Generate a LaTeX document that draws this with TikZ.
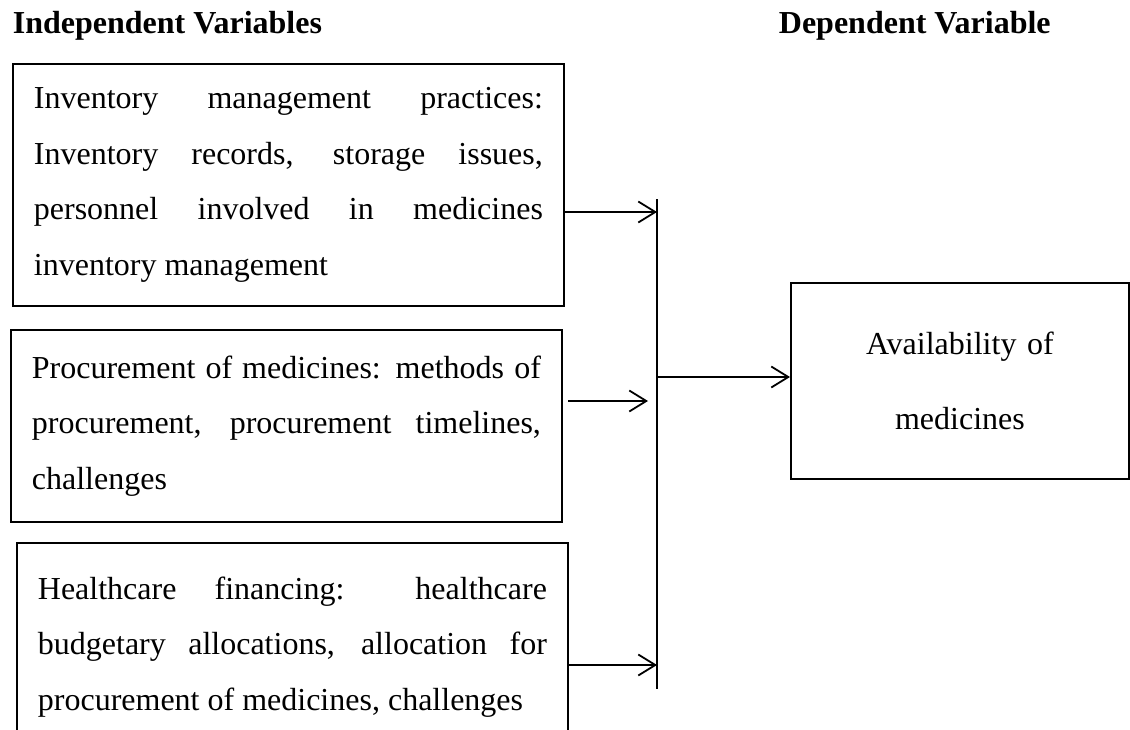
\documentclass[tikz,border=0pt]{standalone}
\usepackage{fontspec}
\setmainfont{Liberation Serif}
\usetikzlibrary{arrows.meta}

\begin{document}
\begin{tikzpicture}[x=0.5pt,y=-0.5pt,line width=0.9pt,
  ivbox/.style={draw,anchor=north west,text width=254.5pt,inner xsep=10.5pt,align=justify,
    font={\fontsize{16pt}{27.75pt}\selectfont\tolerance=10000\relax\hyphenpenalty=10000\relax}},
  dvbox/.style={draw,anchor=north west,text width=169pt,inner xsep=0pt,align=center,
    font={\fontsize{16pt}{37.5pt}\selectfont}},
  head/.style={anchor=base west,inner sep=0pt,font={\fontsize{16pt}{20pt}\selectfont\bfseries}},
  arr/.style={-{Straight Barb[length=8.5pt,width=10.5pt]}}]
\useasboundingbox (0,0) rectangle (1130,729);
\node[head] (ivhead) at (12,33) {Independent Variables};
\node[head] (dvhead) at (778,33) {Dependent Variable};
\node[ivbox,minimum height=121pt] (inv) at (12,63) {Inventory management practices:\linebreak
  Inventory records, storage issues,\linebreak personnel involved in medicines\linebreak
  inventory management\par\vspace{5.6pt}};
\node[ivbox,minimum height=96pt] (proc) at (10,329) {Procurement of medicines: methods of\linebreak
  procurement, procurement timelines,\linebreak challenges\par\vspace{9pt}};
\node[ivbox,minimum height=104pt] (fin) at (16,542) {Healthcare financing: healthcare\linebreak
  budgetary allocations, allocation for\linebreak procurement of medicines, challenges\par\vspace{18pt}};
\node[dvbox,minimum height=98pt] (avail) at (790,282) {Availability of\\medicines\par\vspace{32.5pt}};
\coordinate (bustop) at (657,199);
\coordinate (busbot) at (657,689);
\coordinate (a1) at (657,212);
\coordinate (a2s) at (568,401);
\coordinate (a2e) at (648,401);
\coordinate (a3) at (657,665);
\coordinate (a4) at (657,377);
\draw (bustop) -- (busbot);
\draw[arr] (inv.east |- a1) -- (a1);
\draw[arr] (a2s) -- (a2e);
\draw[arr] (fin.east |- a3) -- (a3);
\draw[arr] (a4) -- (avail.west |- a4);
\end{tikzpicture}
\end{document}
